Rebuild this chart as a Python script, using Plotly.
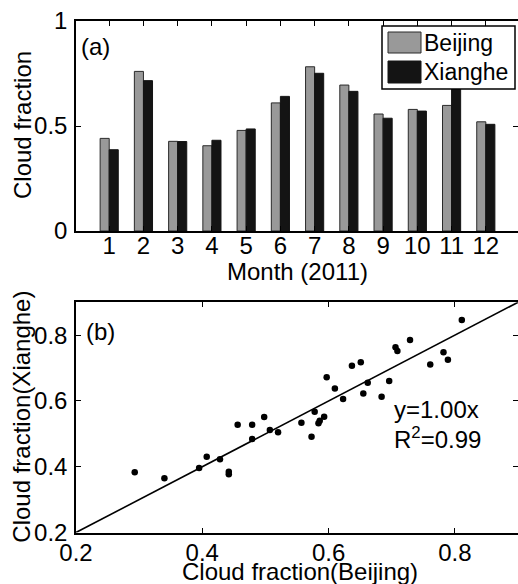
import plotly.graph_objects as go

# ---------------- data ----------------
months = list(range(1, 13))
month_labels = [str(m) for m in months]
beijing_cf = [0.441, 0.760, 0.427, 0.406, 0.479, 0.610, 0.782, 0.695, 0.557, 0.579, 0.598, 0.520]
xianghe_cf = [0.387, 0.716, 0.426, 0.432, 0.486, 0.641, 0.751, 0.665, 0.537, 0.571, 0.700, 0.508]

scatter_beijing = [0.293, 0.340, 0.395, 0.407, 0.428, 0.442, 0.442, 0.456, 0.479, 0.479,
                   0.498, 0.507, 0.520, 0.557, 0.573, 0.578, 0.584, 0.586, 0.593, 0.597,
                   0.610, 0.623, 0.637, 0.651, 0.655, 0.662, 0.684, 0.696, 0.706, 0.709,
                   0.729, 0.761, 0.782, 0.789, 0.811]
scatter_xianghe = [0.383, 0.365, 0.396, 0.430, 0.423, 0.385, 0.377, 0.528, 0.528, 0.484,
                   0.551, 0.512, 0.505, 0.534, 0.491, 0.567, 0.532, 0.540, 0.552, 0.672,
                   0.638, 0.606, 0.707, 0.718, 0.623, 0.655, 0.613, 0.661, 0.763, 0.752,
                   0.785, 0.711, 0.748, 0.725, 0.846]
fit_slope = 1.00
r_squared = 0.99
xrange_b = [0.2, 0.9]
yrange_b = [0.2, 0.9]
yticks_a = [0, 0.5, 1]
yticks_b = [0.2, 0.4, 0.6, 0.8]
xticks_b = [0.2, 0.4, 0.6, 0.8]

W, H = 518, 584
FONT = "Liberation Sans, Arial, Helvetica, sans-serif"
def px(x):
    return x / W
def py(y):
    return 1 - y / H

fig = go.Figure()

fig.add_trace(go.Bar(x=months, y=beijing_cf, name="Beijing",
                     marker=dict(color="#999999", line=dict(color="#2a2a2a", width=1)),
                     xaxis="x", yaxis="y", showlegend=False))
fig.add_trace(go.Bar(x=months, y=xianghe_cf, name="Xianghe",
                     marker=dict(color="#141414", line=dict(color="#141414", width=1)),
                     xaxis="x", yaxis="y", showlegend=False))

fit_x = list(xrange_b)
fit_y = [fit_slope * v for v in fit_x]
fig.add_trace(go.Scatter(x=fit_x, y=fit_y, mode="lines",
                         line=dict(color="black", width=1.6),
                         xaxis="x2", yaxis="y2", showlegend=False))
fig.add_trace(go.Scatter(x=scatter_beijing, y=scatter_xianghe, mode="markers",
                         marker=dict(color="black", size=6.5),
                         xaxis="x2", yaxis="y2", showlegend=False))
# invisible traces for right-side tick axes
fig.add_trace(go.Scatter(x=[None], y=[None], xaxis="x", yaxis="y3", showlegend=False))
fig.add_trace(go.Scatter(x=[None], y=[None], xaxis="x2", yaxis="y4", showlegend=False))

tickfont = dict(family=FONT, size=24, color="black")
axcommon = dict(showline=True, linecolor="black", linewidth=1.5, ticks="inside",
                ticklen=5, tickwidth=1.3, tickcolor="black", showgrid=False,
                zeroline=False, tickfont=tickfont, automargin=False)
rightax = dict(showticklabels=False, showline=False, ticks="inside", ticklen=5,
               tickwidth=1.3, tickcolor="black", showgrid=False, zeroline=False,
               automargin=False, tickmode="array")

dom_x = [px(76), 1]
fig.update_layout(
    template="none",
    width=W, height=H,
    margin=dict(l=0, r=0, t=0, b=0),
    paper_bgcolor="white", plot_bgcolor="white",
    barmode="group", bargap=0.47, bargroupgap=0,
    showlegend=False,
    xaxis=dict(domain=dom_x, anchor="y", range=[0.03, 12.94], tickmode="array",
               tickvals=months, ticktext=month_labels, mirror="ticks",
               ticklabelstandoff=-8, **axcommon),
    yaxis=dict(domain=[py(231), py(21)], anchor="x", range=[0, 1], tickmode="array",
               tickvals=yticks_a, ticktext=["0", "0.5", "1"], ticklabelstandoff=2, **axcommon),
    yaxis3=dict(overlaying="y", side="right", anchor="x", range=[0, 1],
                tickvals=yticks_a, **rightax),
    xaxis2=dict(domain=dom_x, anchor="y2", range=xrange_b, tickmode="array",
                tickvals=xticks_b, ticktext=["0.2", "0.4", "0.6", "0.8"], mirror="ticks",
                ticklabelstandoff=-2, **axcommon),
    yaxis2=dict(domain=[py(532.5), py(302.3)], anchor="x2", range=yrange_b, tickmode="array",
                tickvals=yticks_b, ticktext=["0.2", "0.4", "0.6", "0.8"], ticklabelstandoff=2,
                **axcommon),
    yaxis4=dict(overlaying="y2", side="right", anchor="x2", range=yrange_b,
                tickvals=yticks_b, **rightax),
)

ann_font = dict(family=FONT, size=24, color="black")
annotations = [
    dict(text="Cloud fraction", x=px(22), y=py(125), textangle=-90),
    dict(text="Month (2011)", x=px(297.5), y=py(271.5)),
    dict(text="Cloud fraction(Xianghe)", x=px(22), y=py(416.7), textangle=-90),
    dict(text="Cloud fraction(Beijing)", x=px(299.5), y=py(571)),
]
for a in annotations:
    fig.add_annotation(xref="paper", yref="paper", showarrow=False, font=ann_font,
                       xanchor="center", yanchor="middle", **a)

fig.add_annotation(xref="paper", yref="paper", x=px(79), y=py(46.5), text="(a)",
                   showarrow=False, font=ann_font, xanchor="left", yanchor="middle")
fig.add_annotation(xref="paper", yref="paper", x=px(84), y=py(331), text="(b)",
                   showarrow=False, font=ann_font, xanchor="left", yanchor="middle")
fig.add_annotation(xref="paper", yref="paper", x=px(392), y=py(409), text=f"y={fit_slope:.2f}x",
                   showarrow=False, font=ann_font, xanchor="left", yanchor="middle")
fig.add_annotation(xref="paper", yref="paper", x=px(392), y=py(438), text=f"R<sup>2</sup>={r_squared:.2f}",
                   showarrow=False, font=ann_font, xanchor="left", yanchor="middle")

# legend (drawn manually to match large swatches)
fig.add_shape(type="rect", xref="paper", yref="paper", x0=px(382), x1=px(515), y0=py(89), y1=py(26),
              fillcolor="white", line=dict(color="black", width=1.5), layer="above")
fig.add_shape(type="rect", xref="paper", yref="paper", x0=px(388), x1=px(421), y0=py(53), y1=py(32),
              fillcolor="#999999", line=dict(color="#2a2a2a", width=1), layer="above")
fig.add_shape(type="rect", xref="paper", yref="paper", x0=px(388), x1=px(421), y0=py(83), y1=py(61),
              fillcolor="#141414", line=dict(color="#141414", width=1), layer="above")
fig.add_annotation(xref="paper", yref="paper", x=px(422), y=py(43), text="Beijing",
                   showarrow=False, font=dict(family=FONT, size=23, color="black"),
                   xanchor="left", yanchor="middle")
fig.add_annotation(xref="paper", yref="paper", x=px(422), y=py(72), text="Xianghe",
                   showarrow=False, font=dict(family=FONT, size=23, color="black"),
                   xanchor="left", yanchor="middle")

fig.write_html("out.html")
